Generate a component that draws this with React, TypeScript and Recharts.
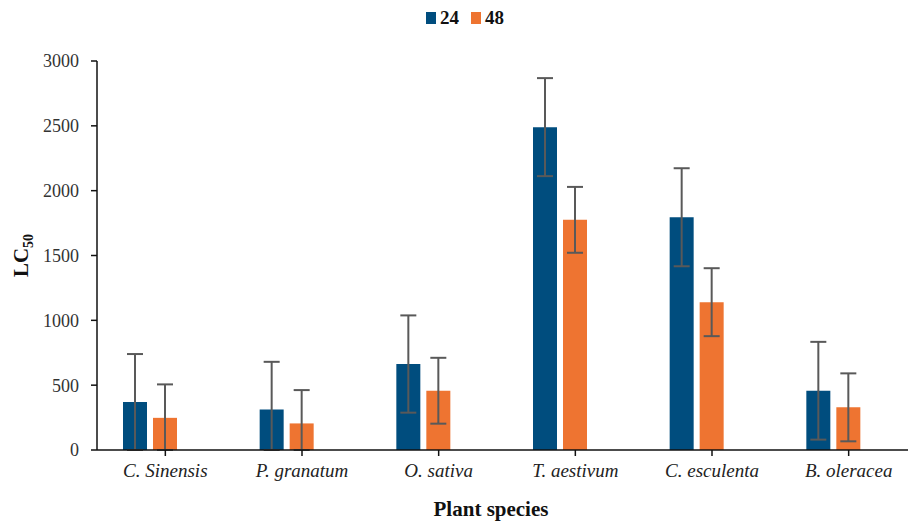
import React from 'react';
import { BarChart, Bar, XAxis, YAxis, ErrorBar } from 'recharts';

const species = ['C. Sinensis', 'P. granatum', 'O. sativa', 'T. aestivum', 'C. esculenta', 'B. oleracea'];
const lc24 = [370, 313, 663, 2490, 1795, 457];
const err24 = [370, 367, 375, 378, 378, 377];
const lc48 = [248, 205, 457, 1775, 1140, 329];
const err48 = [258, 257, 254, 254, 262, 262];
const yTicks = [0, 500, 1000, 1500, 2000, 2500, 3000];

const BLUE = '#004d7e';
const ORANGE = '#ee7431';
const SERIF = 'Liberation Serif';

// error bars stop at the axis, like the original
const data = species.map((name, i) => ({
  name,
  h24: lc24[i],
  e24: [Math.min(err24[i], lc24[i]), err24[i]],
  h48: lc48[i],
  e48: [Math.min(err48[i], lc48[i]), err48[i]],
  blank: 0,
}));

const YLabel = (props: any) => {
  const { viewBox } = props;
  const x = 28;
  const y = viewBox.y + viewBox.height / 2;
  return (
    <text x={x} y={y} transform={`rotate(-90 ${x} ${y})`} textAnchor="middle" style={{ fontFamily: SERIF, fontWeight: 'bold', fontSize: 21 }} fill="#111">
      LC<tspan fontSize={14} dy={5}>50</tspan>
    </text>
  );
};

const XLabel = (props: any) => {
  const { viewBox } = props;
  return (
    <text x={491} y={viewBox.y + 66} textAnchor="middle" style={{ fontFamily: SERIF, fontWeight: 'bold', fontSize: 21 }} fill="#111">
      Plant species
    </text>
  );
};

const LegendBox = () => (
  <div style={{ position: 'absolute', top: 7, left: 426, display: 'flex', alignItems: 'center', fontFamily: SERIF, fontWeight: 'bold', fontSize: 19, color: '#111' }}>
    <span style={{ width: 10, height: 12, background: BLUE, display: 'inline-block', marginRight: 4 }} />
    <span style={{ marginRight: 12 }}>24</span>
    <span style={{ width: 10, height: 12, background: ORANGE, display: 'inline-block', marginRight: 4 }} />
    <span>48</span>
  </div>
);

export default function App() {
  return (
    <div style={{ position: 'absolute', left: 0, top: 0, width: 908, height: 522, overflow: 'hidden', background: '#fff', fontFamily: SERIF }}>
      <LegendBox />
      <BarChart
        width={920}
        height={522}
        data={data}
        margin={{ top: 61, right: 3, bottom: 42, left: 0 }}
        barSize={24}
        barGap={6}
        style={{ fontFamily: SERIF }}
      >
        <XAxis
          dataKey="name"
          height={30}
          axisLine={{ stroke: '#111', strokeWidth: 1.5 }}
          tickLine={{ stroke: '#111', strokeWidth: 1.5 }}
          tickSize={6}
          tickMargin={8}
          interval={0}
          tick={{ fontFamily: SERIF, fontStyle: 'italic', fontSize: 19, fill: '#222' }}
          label={<XLabel />}
        />
        <YAxis
          width={97}
          domain={[0, 3000]}
          ticks={yTicks}
          interval={0}
          axisLine={{ stroke: '#111', strokeWidth: 1.5 }}
          tickLine={{ stroke: '#111', strokeWidth: 1.5 }}
          tickSize={6}
          tickMargin={12}
          tick={{ fontFamily: SERIF, fontSize: 18, fill: '#333' }}
          label={<YLabel />}
        />
        <Bar dataKey="h24" fill={BLUE} isAnimationActive={false}>
          <ErrorBar dataKey="e24" width={8} stroke="#595959" strokeWidth={2} />
        </Bar>
        <Bar dataKey="h48" fill={ORANGE} isAnimationActive={false}>
          <ErrorBar dataKey="e48" width={8} stroke="#595959" strokeWidth={2} />
        </Bar>
        <Bar dataKey="blank" fill="transparent" legendType="none" isAnimationActive={false} />
      </BarChart>
    </div>
  );
}
